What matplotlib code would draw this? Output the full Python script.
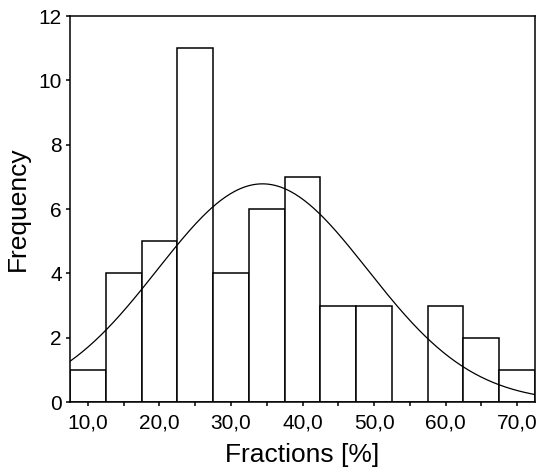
import numpy as np
import matplotlib.pyplot as plt
from matplotlib.ticker import MultipleLocator, FuncFormatter

# histogram bins (5 % wide) and counts
bin_edges = [7.5, 12.5, 17.5, 22.5, 27.5, 32.5, 37.5, 42.5, 47.5, 52.5, 57.5, 62.5, 67.5, 72.5]
counts = [1, 4, 5, 11, 4, 6, 7, 3, 3, 0, 3, 2, 1]

# fitted normal curve parameters
curve_mean = 34.4
curve_sd = 14.7
n_total = sum(counts)
bin_width = 5.0

plt.rcParams['font.family'] = ['Liberation Sans', 'DejaVu Sans']

fig = plt.figure(figsize=(5.39, 4.72), dpi=100)
ax = fig.add_axes([0.13, 0.148, 0.8626, 0.818])

lefts = np.array(bin_edges[:-1])
ax.bar(lefts, counts, width=bin_width, align='edge', color='white',
       edgecolor='black', linewidth=1.1)

xs = np.linspace(bin_edges[0], bin_edges[-1], 300)
ys = n_total * bin_width / (curve_sd * np.sqrt(2 * np.pi)) * \
    np.exp(-(xs - curve_mean) ** 2 / (2 * curve_sd ** 2))
ax.plot(xs, ys, color='black', linewidth=0.9)

ax.set_xlim(bin_edges[0], bin_edges[-1])
ax.set_ylim(0, 12)
ax.xaxis.set_major_locator(MultipleLocator(5))
ax.xaxis.set_major_formatter(FuncFormatter(
    lambda v, p: f"{v:.1f}".replace('.', ',') if round(v) % 10 == 0 else ''))
ax.yaxis.set_major_locator(MultipleLocator(2))

for s in ax.spines.values():
    s.set_linewidth(1.1)
ax.tick_params(direction='out', length=3, width=1.1, labelsize=15, pad=3)
ax.tick_params(axis='x', pad=5)

ax.set_xlabel('Fractions [%]', fontsize=19, labelpad=8)
ax.set_ylabel('Frequency', fontsize=19, labelpad=6)

fig.savefig('out.png', dpi=100)
